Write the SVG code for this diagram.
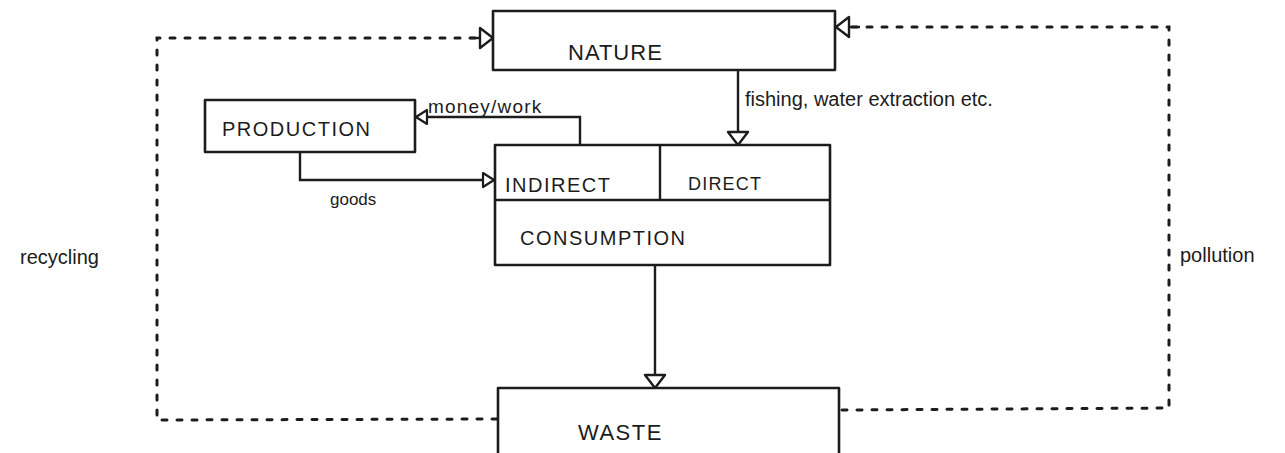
<svg xmlns="http://www.w3.org/2000/svg" width="1285" height="453" viewBox="0 0 1285 453">
<style>
.box{fill:none;stroke:#1c1c1c;stroke-width:2.6;stroke-linejoin:round}
.ln{fill:none;stroke:#1c1c1c;stroke-width:2.4}
.dash{fill:none;stroke:#1c1c1c;stroke-width:3;stroke-dasharray:5 10;stroke-linecap:round}
.t{font-family:"Liberation Sans",Arial,sans-serif;fill:#1c1c1c}
.cap{font-size:20px;letter-spacing:1.5px}
.lab{font-size:19px}
</style>
<defs>
<marker id="ah" markerUnits="userSpaceOnUse" markerWidth="16" markerHeight="24" viewBox="0 0 16 24" refX="15" refY="12" orient="auto">
<path d="M2,2 L15,12 L2,22 Z" fill="#fff" stroke="#1c1c1c" stroke-width="2.4" stroke-linejoin="round"/>
</marker>
<marker id="ahs" markerUnits="userSpaceOnUse" markerWidth="14" markerHeight="18" viewBox="0 0 14 18" refX="13" refY="9" orient="auto">
<path d="M2,2 L13,9 L2,16 Z" fill="#fff" stroke="#1c1c1c" stroke-width="2.2" stroke-linejoin="round"/>
</marker>
</defs>
<rect width="1285" height="453" fill="#fff"/>
<g id="connectors">
<polyline class="dash" points="497,419 157,420 157,38 479,38"/>
<line class="ln" x1="470" y1="38" x2="493" y2="38" marker-end="url(#ah)"/>
<polyline class="dash" points="842,410 1169,408 1169,27 852,27"/>
<line class="ln" x1="860" y1="27" x2="836" y2="27" marker-end="url(#ah)"/>
<polyline class="ln" points="580,145 580,117 416,117" marker-end="url(#ahs)"/>
<polyline class="ln" points="300,152 300,180 494,180" marker-end="url(#ahs)"/>
<line class="ln" x1="738" y1="70" x2="738" y2="145" marker-end="url(#ah)"/>
<line class="ln" x1="655" y1="265" x2="655" y2="388" marker-end="url(#ah)"/>
<text class="t lab" x="428" y="113" letter-spacing="1.2">money/work</text>
<text class="t" x="745" y="106" font-size="20">fishing, water extraction etc.</text>
<text class="t" x="330" y="205" font-size="17">goods</text>
<text class="t" x="20" y="264" font-size="20">recycling</text>
<text class="t" x="1180" y="262" font-size="20">pollution</text>
</g>
<g id="nature">
<rect class="box" x="493" y="11" width="342" height="59"/>
<text class="t" x="568" y="60" font-size="22" letter-spacing="1">NATURE</text>
</g>
<g id="production">
<rect class="box" x="205" y="100" width="210" height="52"/>
<text class="t cap" x="222" y="136" letter-spacing="0">PRODUCTION</text>
</g>
<g id="consumption">
<rect class="box" x="495" y="145" width="335" height="120"/>
<line class="ln" x1="495" y1="200" x2="830" y2="200"/>
<line class="ln" x1="660" y1="145" x2="660" y2="200"/>
<text class="t cap" x="505" y="192" letter-spacing="2.5">INDIRECT</text>
<text class="t" x="688" y="190" font-size="18" letter-spacing="1.2">DIRECT</text>
<text class="t cap" x="520" y="245" letter-spacing="1">CONSUMPTION</text>
</g>
<g id="waste">
<rect class="box" x="498" y="388" width="341" height="70"/>
<text class="t" x="578" y="440" font-size="22" letter-spacing="1.5">WASTE</text>
</g>
</svg>
